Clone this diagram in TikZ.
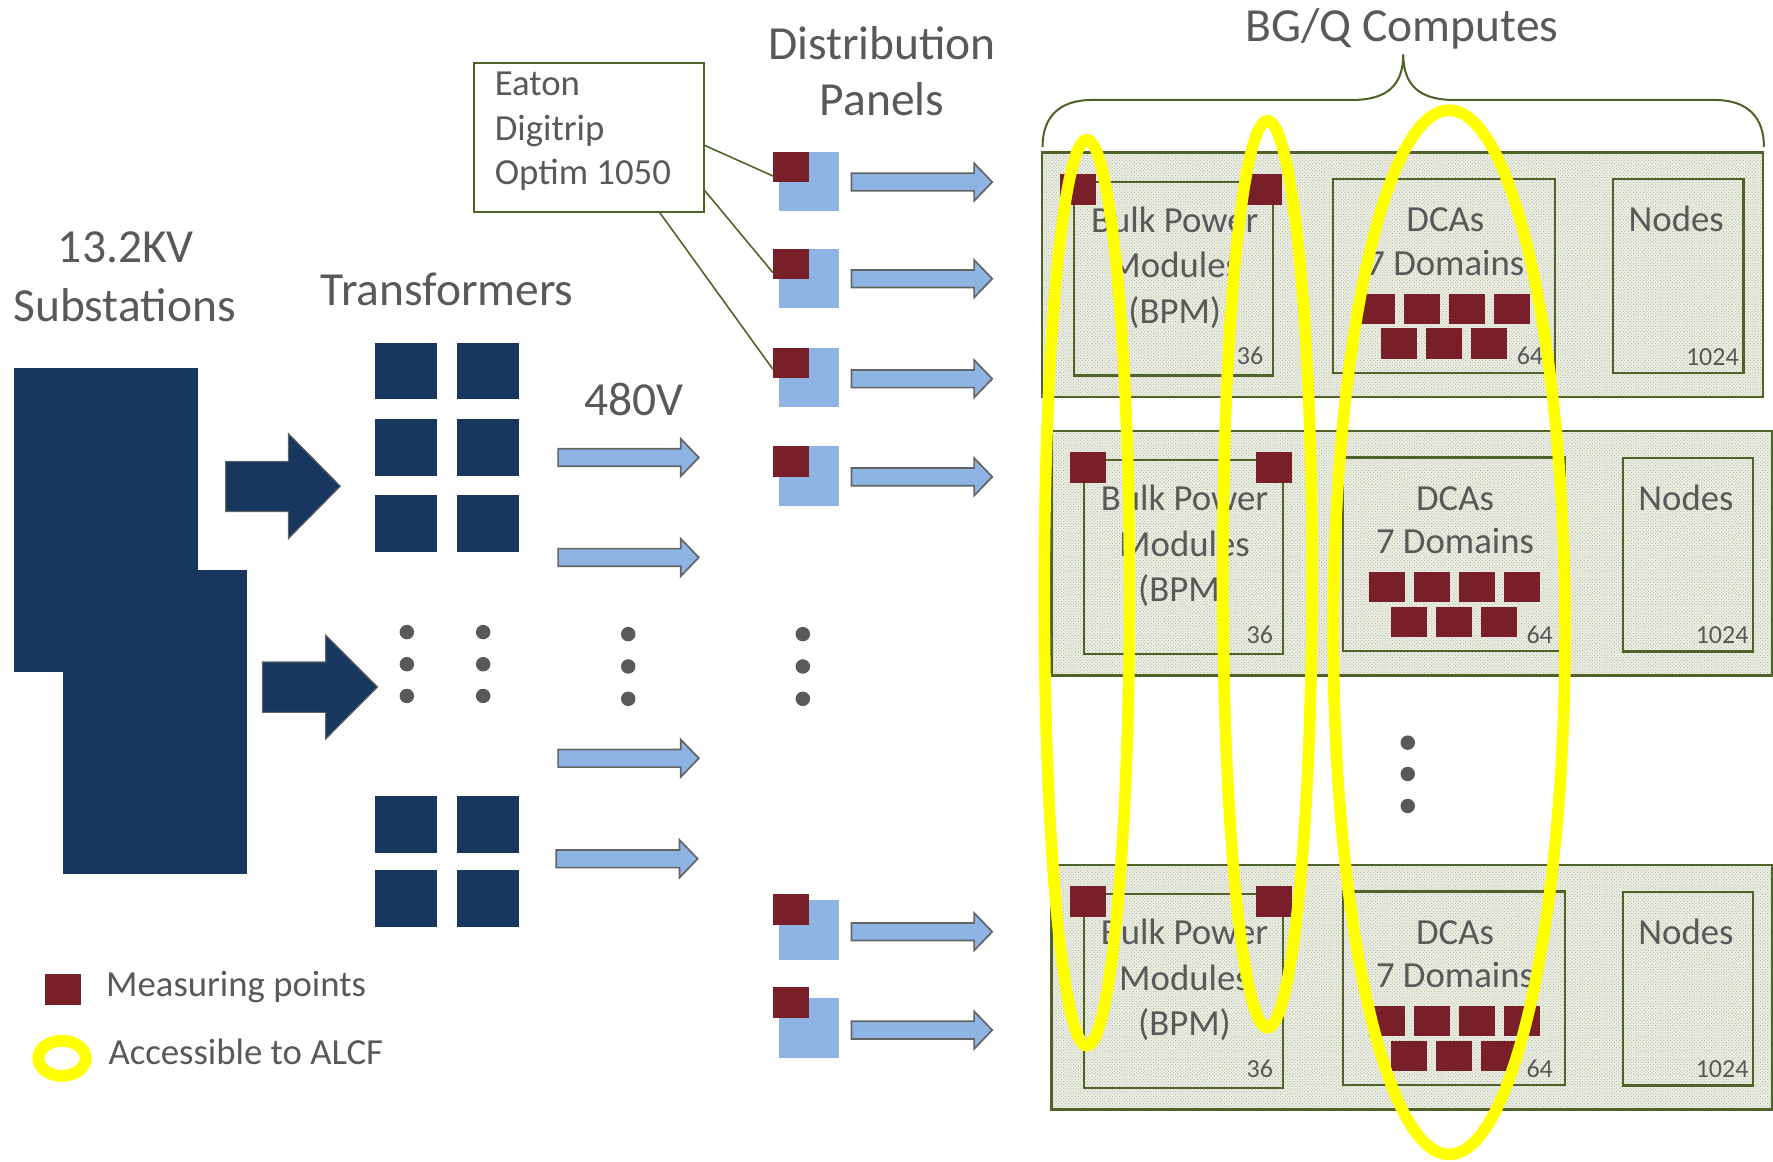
\documentclass[tikz,border=0pt]{standalone}
\usepackage{fontspec}
\setmainfont{Carlito}
\usetikzlibrary{calc,patterns}
\definecolor{navy}{RGB}{23,55,94}
\definecolor{maroon}{RGB}{121,31,41}
\definecolor{lblue}{RGB}{142,180,227}
\definecolor{olivegr}{RGB}{79,98,40}
\definecolor{txtgray}{RGB}{89,89,89}
\definecolor{rackfill}{RGB}{236,238,228}
\definecolor{rackdot}{RGB}{170,180,150}
\definecolor{agray}{RGB}{100,100,100}
\definecolor{hiyellow}{RGB}{255,255,0}
\newcommand{\thinarrow}[5]{%
  \filldraw[fill=lblue, draw=agray, line width=1.5pt, line join=miter]
    ({#1},{#4-7.8}) -- ({#2},{#4-7.8}) -- ({#2},{#4-16.6}) -- ({#3},{#4})
    -- ({#2},{#4+16.6}) -- ({#2},{#4+7.8}) -- ({#1},{#4+7.8}) -- cycle;}
\begin{document}
\begin{tikzpicture}[x=1pt,y=-1pt,
  hdr/.style={font=\fontsize{42}{50}\selectfont, text=txtgray, inner sep=0pt, anchor=base},
  lbl/.style={font=\fontsize{32.5}{40}\selectfont, text=txtgray, inner sep=0pt, anchor=base},
  lblw/.style={lbl, anchor=base west},
  num/.style={font=\fontsize{23}{27}\selectfont, text=txtgray, inner sep=0pt, anchor=base east},
  sq/.style={draw=none, inner sep=0pt, outer sep=0pt, anchor=north west},
  rack/.style={sq, draw=olivegr, line width=2.2pt, preaction={fill=rackfill}, pattern=crosshatch dots, pattern color=rackdot},
  inbox/.style={sq, draw=olivegr, line width=2pt},
  meas/.style={sq, fill=maroon, minimum width=32pt, minimum height=27pt},
  dca/.style={sq, fill=maroon, minimum width=32pt, minimum height=26.8pt},
  dot/.style={circle, fill=txtgray, inner sep=0pt, minimum size=12.8pt},
  ring/.style={draw=hiyellow, line width=10.3pt},
  connector/.style={draw=olivegr, line width=1.4pt}
]
\useasboundingbox (0,0) rectangle (1568,1026.8);

% ---------- Substations ----------
\node[hdr] (kv) at (111.3,232.2) {13.2KV};
\node[hdr] (subst) at (110.2,284.2) {Substations};
\node[sq, fill=navy, minimum width=162.7pt, minimum height=269pt] (subA) at (12.3,325.4) {};
\node[sq, fill=navy, minimum width=162.9pt, minimum height=269pt] (subB) at (55.6,504) {};

% big arrows
\filldraw[fill=navy, draw=agray, line width=1pt, line join=miter]
  (199.6,408) -- (255,408) -- (255,383.4) -- (301,430) -- (255,476.4) -- (255,452.5) -- (199.6,452.5) -- cycle;
\filldraw[fill=navy, draw=agray, line width=1pt, line join=miter]
  (232,585.5) -- (288,585.5) -- (288,561.6) -- (333.9,607.6) -- (288,653.6) -- (288,630) -- (232,630) -- cycle;

% ---------- Transformers ----------
\node[hdr] (trans) at (395.5,269.8) {Transformers};
\foreach \c/\x in {1/331.6,2/404.3}{
  \foreach \r/\y in {1/303.2,2/370.6,3/437.8,4/704,5/769.5}{
    \node[sq, fill=navy, minimum width=55pt, minimum height=50pt] (t\c\r) at (\x,\y) {};
  }
}
\foreach \x/\n in {359.8/a,427.3/b}{
  \foreach \y/\m in {559/1,587.4/2,615.5/3}{
    \node[dot] (td\n\m) at (\x,\y) {};
  }
}

% ---------- 480V ----------
\node[hdr] (v480) at (560.6,367.7) {480V};
\thinarrow{493.6}{602}{618}{404.6}{}
\thinarrow{493.6}{602}{618}{493}{}
\thinarrow{493.6}{602}{618}{670.6}{}
\thinarrow{492}{601}{617}{759.5}{}
\foreach \y/\m in {560.8/1,589.4/2,618/3}{
  \node[dot] (vd\m) at (555.6,\y) {};
  \node[dot] (pd\m) at (710,\y) {};
}

% ---------- Distribution panels ----------
\node[hdr] (distA) at (780,52.5) {Distribution};
\node[hdr] (distB) at (780,102.3) {Panels};
\foreach \i/\ry/\by/\ay in {1/134/134/161,2/220/220/246.5,3/307.6/307.6/335,4/394.5/394.5/421.7,5/790.7/796/824,6/873/883/911}{
  \node[sq, fill=lblue, minimum width=52.6pt, minimum height=52.7pt] (pb\i) at (689,\by) {};
  \node[meas] (pr\i) at (683.5,\ry) {};
  \thinarrow{753}{861.5}{877.5}{\ay}{}
}

% ---------- Eaton box ----------
\node[sq, draw=olivegr, line width=1.6pt, minimum width=203.7pt, minimum height=131.5pt] (eaton) at (418.9,56) {};
\node[lblw] (eat1) at (437.4,84.6) {Eaton};
\node[lblw] (eat2) at (437.4,124.4) {Digitrip};
\node[lblw] (eat3) at (437.4,163.6) {Optim 1050};
\draw[connector] ($(eaton.north east)!0.55!(eaton.south east)$) -- ($(pr1.north west)!0.8!(pr1.south west)$);
\draw[connector] ($(eaton.north east)!0.85!(eaton.south east)$) -- ($(pr2.north west)!0.78!(pr2.south west)$);
\draw[connector] ($(eaton.south west)!0.806!(eaton.south east)$) -- ($(pr3.north west)!0.7!(pr3.south west)$);

% ---------- BG/Q Computes ----------
\node[hdr] (bgq) at (1240,36.9) {BG/Q Computes};
\draw[olivegr, line width=1.8pt]
  (922,130) .. controls (922,104) and (936,88.4) .. (966,88.4) -- (1196,88.4)
  .. controls (1226,88.4) and (1241,76) .. (1241,48)
  .. controls (1241,76) and (1256,88.4) .. (1286,88.4) -- (1516,88.4)
  .. controls (1546,88.4) and (1560,104) .. (1560,130);

\foreach \r/\ox/\oy in {1/921.4/135,2/930/381.2,3/930/765}{
  \begin{scope}[shift={(\ox,\oy)}]
    \node[rack, minimum width=637.6pt, minimum height=216pt] (rack\r) at (0,0) {};
    \node[inbox, minimum width=176.1pt, minimum height=171.3pt] (bpm\r) at (28.4,25.7) {};
    \node[inbox, minimum width=196.6pt, minimum height=171.3pt] (dcab\r) at (257.5,23.3) {};
    \node[inbox, minimum width=115.6pt, minimum height=171.4pt] (nodes\r) at (505,23.6) {};
    \node[lbl] (bpmA\r) at (117.5,70.5) {Bulk Power};
    \node[lbl] (bpmB\r) at (117.5,110.8) {Modules};
    \node[lbl] (bpmC\r) at (117.5,150.8) {(BPM)};
    \node[num] (bpmN\r) at (196,187.5) {36};
    \node[lbl] (dcaA\r) at (356.8,69.9) {DCAs};
    \node[lbl] (dcaB\r) at (356.8,108.4) {7 Domains};
    \node[num] (dcaN\r) at (443.5,187.5) {64};
    \node[lbl] (nodA\r) at (561,69.9) {Nodes};
    \node[num] (nodN\r) at (616.5,188) {1024};
    \node[meas] (mL\r) at (16.1,18.9) {};
    \node[meas] (mR\r) at (180.6,18.9) {};
    \foreach \k in {0,1,2,3}{
      \node[dca] (dt\r\k) at ({280.6+39.7*\k},124.6) {};
    }
    \foreach \k in {0,1,2}{
      \node[dca] (db\r\k) at ({300+39.7*\k},155.5) {};
    }
  \end{scope}
}
\foreach \y/\m in {656.8/1,684.5/2,712.8/3}{
  \node[dot] (cd\m) at (1245,\y) {};
}

% ---------- Accessible rings ----------
\draw[ring] (961.2,524.2) ellipse [x radius=37.7pt, y radius=400.6pt];
\draw[ring] (1120.9,507.8) ellipse [x radius=39.5pt, y radius=401pt];
\draw[ring] (1281.6,559.2) ellipse [x radius=102.5pt, y radius=461.7pt];

% ---------- Legend ----------
\node[sq, fill=maroon, minimum width=31.8pt, minimum height=27pt] (legsq) at (39.8,861.4) {};
\node[lblw] (legt1) at (93.7,880.9) {Measuring points};
\draw[ring, line width=10.5pt] (54.85,935.95) ellipse [x radius=21pt, y radius=15.5pt];
\node[lblw] (legt2) at (95.8,941.3) {Accessible to ALCF};
\end{tikzpicture}
\end{document}
